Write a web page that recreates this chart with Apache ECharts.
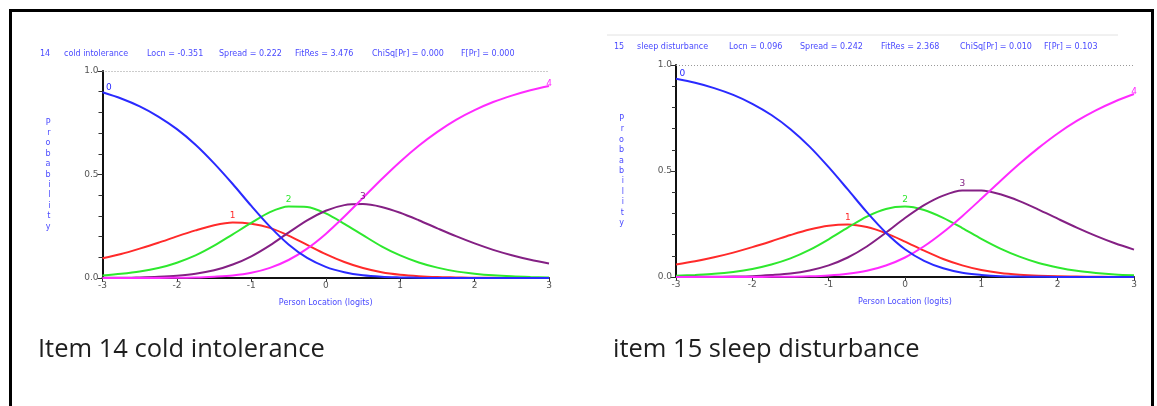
<!DOCTYPE html>
<html><head><meta charset="utf-8">
<script src="https://cdn.jsdelivr.net/npm/echarts@6/dist/echarts.min.js"></script>
<style>html,body{margin:0;padding:0;background:#fff}#c{width:1157px;height:406px}</style>
</head><body><div id="c"></div>
<script>
// Person locations (logits) at which curves were read
const locations = [-3, -2.75, -2.5, -2.25, -2, -1.75, -1.5, -1.25, -1, -0.75, -0.5, -0.25, 0, 0.25, 0.5, 0.75, 1, 1.25, 1.5, 1.75, 2, 2.25, 2.5, 2.75, 3];
const categoryNames = ['0', '1', '2', '3', '4'];
const xTicks = ['-3', '-2', '-1', '0', '1', '2', '3'];
const yTicks = ['0.0', '0.5', '1.0'];

// Item 14 cold intolerance
const item14Title = ['14', 'cold intolerance', 'Locn = -0.351', 'Spread = 0.222', 'FitRes = 3.476', 'ChiSq[Pr] = 0.000', 'F[Pr] = 0.000'];
const item14Cat0 = [0.897, 0.867, 0.829, 0.780, 0.719, 0.644, 0.554, 0.454, 0.348, 0.248, 0.162, 0.097, 0.054, 0.028, 0.013, 0.006, 0.003, 0.001, 0, 0, 0, 0, 0, 0, 0];
const item14Cat1 = [0.095, 0.116, 0.142, 0.170, 0.201, 0.230, 0.255, 0.268, 0.262, 0.242, 0.205, 0.160, 0.115, 0.077, 0.048, 0.028, 0.016, 0.009, 0.005, 0.003, 0.001, 0.001, 0, 0, 0];
const item14Cat2 = [0.012, 0.020, 0.031, 0.048, 0.074, 0.109, 0.156, 0.211, 0.266, 0.318, 0.345, 0.343, 0.312, 0.262, 0.207, 0.153, 0.109, 0.075, 0.050, 0.032, 0.021, 0.013, 0.008, 0.005, 0.003];
const item14Cat3 = [0.001, 0.001, 0.003, 0.006, 0.011, 0.020, 0.037, 0.065, 0.105, 0.158, 0.219, 0.278, 0.325, 0.352, 0.357, 0.343, 0.315, 0.279, 0.240, 0.202, 0.167, 0.136, 0.110, 0.088, 0.070];
const item14Cat4 = [0, 0, 0, 0, 0.001, 0.002, 0.006, 0.012, 0.025, 0.049, 0.087, 0.142, 0.213, 0.297, 0.387, 0.477, 0.562, 0.639, 0.706, 0.764, 0.811, 0.850, 0.881, 0.907, 0.928];

// Item 15 sleep disturbance
const item15Title = ['15', 'sleep disturbance', 'Locn = 0.096', 'Spread = 0.242', 'FitRes = 2.368', 'ChiSq[Pr] = 0.010', 'F[Pr] = 0.103'];
const item15Cat0 = [0.935, 0.916, 0.891, 0.859, 0.817, 0.764, 0.697, 0.615, 0.518, 0.413, 0.306, 0.209, 0.131, 0.076, 0.041, 0.020, 0.010, 0.004, 0.002, 0.001, 0, 0, 0, 0, 0];
const item15Cat1 = [0.059, 0.074, 0.093, 0.115, 0.141, 0.169, 0.198, 0.224, 0.242, 0.248, 0.236, 0.207, 0.167, 0.124, 0.085, 0.055, 0.033, 0.019, 0.011, 0.006, 0.003, 0.002, 0.001, 0, 0];
const item15Cat2 = [0.006, 0.010, 0.015, 0.024, 0.038, 0.059, 0.088, 0.128, 0.178, 0.233, 0.285, 0.321, 0.332, 0.316, 0.279, 0.231, 0.180, 0.134, 0.096, 0.066, 0.045, 0.029, 0.019, 0.012, 0.008];
const item15Cat3 = [0, 0.001, 0.001, 0.002, 0.004, 0.009, 0.016, 0.031, 0.055, 0.092, 0.144, 0.209, 0.278, 0.339, 0.384, 0.408, 0.408, 0.390, 0.358, 0.318, 0.275, 0.233, 0.194, 0.159, 0.129];
const item15Cat4 = [0, 0, 0, 0, 0, 0.001, 0.001, 0.003, 0.007, 0.015, 0.029, 0.054, 0.092, 0.145, 0.211, 0.287, 0.369, 0.453, 0.534, 0.609, 0.677, 0.736, 0.786, 0.828, 0.863];

const captions = ['Item 14 cold intolerance', 'item 15 sleep disturbance'];

const catColors = ['#2a2aff', '#ff2a2a', '#2ee82e', '#842084', '#ff2aff'];
const blueText = '#4a4aff';

const charts = [
  {cats: [item14Cat0, item14Cat1, item14Cat2, item14Cat3, item14Cat4], grid: {left: 102.5, top: 71, width: 446.5, height: 207}},
  {cats: [item15Cat0, item15Cat1, item15Cat2, item15Cat3, item15Cat4], grid: {left: 676, top: 65, width: 458, height: 212}}
];

const grids = [], xAxes = [], yAxes = [], series = [];
charts.forEach((ch, gi) => {
  grids.push(ch.grid);
  xAxes.push({
    type: 'value', gridIndex: gi, min: -3, max: 3, interval: 1,
    name: 'Person Location (logits)', nameLocation: 'middle', nameGap: 21,
    nameTextStyle: {color: blueText, fontSize: 8, fontFamily: 'DejaVu Sans'},
    axisLine: {onZero: false, lineStyle: {color: '#111', width: 2}},
    axisTick: {show: true, length: 4, lineStyle: {color: '#333'}},
    axisLabel: {color: '#555', fontSize: 9, margin: 3, fontFamily: 'DejaVu Sans',
      formatter: v => xTicks[Math.round(v) + 3]},
    splitLine: {show: false}
  });
  yAxes.push({
    type: 'value', gridIndex: gi, min: 0, max: 1, interval: 0.5,
    name: 'Probability'.split('').join('\n'), nameLocation: 'middle', nameRotate: 0, nameGap: 52,
    nameTextStyle: {color: blueText, fontSize: 8, lineHeight: 10.4, fontFamily: 'DejaVu Sans'},
    axisLine: {show: true, onZero: false, lineStyle: {color: '#111', width: 2}},
    axisTick: {show: true, length: 5, lineStyle: {color: '#333'}},
    minorTick: {show: true, splitNumber: 5, length: 4, lineStyle: {color: '#333'}},
    axisLabel: {color: '#555', fontSize: 9, margin: 4, fontFamily: 'DejaVu Sans',
      formatter: v => yTicks[Math.round(v * 2)]},
    splitLine: {show: false}
  });
  ch.cats.forEach((vals, ci) => {
    const s = {
      type: 'line', name: categoryNames[ci], xAxisIndex: gi, yAxisIndex: gi,
      data: locations.map((x, i) => [x, vals[i]]),
      smooth: 0.3, showSymbol: false, symbol: 'none',
      lineStyle: {color: catColors[ci], width: 2}, itemStyle: {color: catColors[ci]},
      z: 3 + (ci === 0 ? 1 : 0),
      markPoint: {
        symbol: 'circle', symbolSize: 1, itemStyle: {color: 'rgba(0,0,0,0)'},
        label: {show: true, formatter: categoryNames[ci], color: catColors[ci], fontSize: 9,
          fontFamily: 'DejaVu Sans', position: ci === 0 ? 'right' : 'top', distance: ci === 0 ? 3 : 2,
          offset: ci === 0 ? [0, -5] : (ci === 4 ? [0, 5] : [0, 0])},
        data: [{type: 'max'}]
      }
    };
    if (ci === 0) {
      s.markLine = {silent: true, symbol: 'none', label: {show: false},
        lineStyle: {color: '#999', type: [1, 2], width: 1}, data: [{yAxis: 1}]};
    }
    series.push(s);
  });
});

const titlePos = [[40, 64, 147, 219, 295, 372, 461], [614, 637, 729, 800, 881, 960, 1044]];
const titleY = [55, 48];
const graphic = [];
[item14Title, item15Title].forEach((t, i) => {
  t.forEach((txt, j) => graphic.push({type: 'text', left: titlePos[i][j], top: titleY[i] - 5,
    style: {text: txt, fill: blueText, fontSize: 8, fontFamily: 'DejaVu Sans'}}));
});
graphic.push({type: 'line', shape: {x1: 607, y1: 35, x2: 1118, y2: 35}, style: {stroke: '#e2e2e2', lineWidth: 1}});
graphic.push({type: 'text', left: 38, top: 337, style: {text: captions[0], fill: '#1e1e1e', fontSize: 25.5, fontFamily: 'Open Sans'}});
graphic.push({type: 'text', left: 613, top: 337, style: {text: captions[1], fill: '#1e1e1e', fontSize: 25.5, fontFamily: 'Open Sans'}});
graphic.push({type: 'rect', shape: {x: 10.5, y: 10.5, width: 1142, height: 420}, style: {fill: 'none', stroke: '#000', lineWidth: 3}});

const chart = echarts.init(document.getElementById('c'), null, {renderer: 'canvas'});
chart.setOption({
  animation: false, backgroundColor: '#fff',
  grid: grids, xAxis: xAxes, yAxis: yAxes, series: series, graphic: graphic
});
</script></body></html>
